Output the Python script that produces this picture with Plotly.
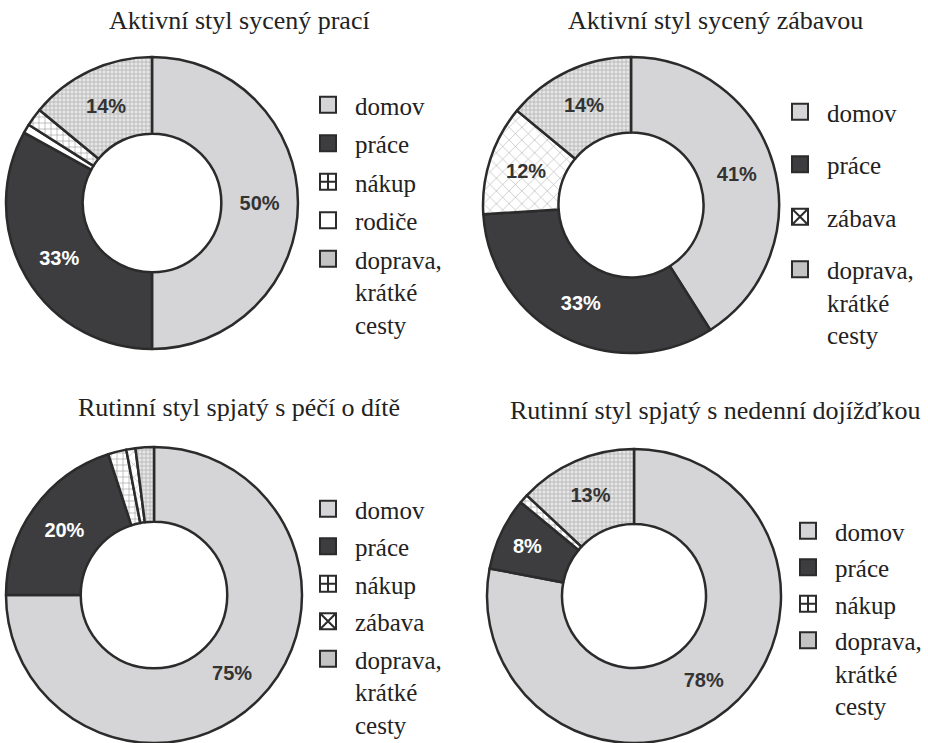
import plotly.graph_objects as go

# ---- data ---------------------------------------------------------------
titles = [
    "Aktivní styl sycený prací",
    "Aktivní styl sycený zábavou",
    "Rutinní styl spjatý s péčí o dítě",
    "Rutinní styl spjatý s nedenní dojížďkou",
]

# slice order (clockwise from 12 o'clock)
slices_1 = ["domov", "práce", "rodiče", "nákup", "doprava"]
values_1 = [50, 33, 1, 2, 14]
legend_1 = ["domov", "práce", "nákup", "rodiče", "doprava"]

slices_2 = ["domov", "práce", "zábava", "doprava"]
values_2 = [41, 33, 12, 14]
legend_2 = ["domov", "práce", "zábava", "doprava"]

slices_3 = ["domov", "práce", "nákup", "zábava", "doprava"]
values_3 = [75, 20, 2, 1, 2]
legend_3 = ["domov", "práce", "nákup", "zábava", "doprava"]

slices_4 = ["domov", "práce", "nákup", "doprava"]
values_4 = [78, 8, 1, 13]
legend_4 = ["domov", "práce", "nákup", "doprava"]

legend_names = {
    "domov": "domov",
    "práce": "práce",
    "nákup": "nákup",
    "rodiče": "rodiče",
    "zábava": "zábava",
    "doprava": "doprava,<br>krátké<br>cesty",
}

# ---- styling ------------------------------------------------------------
SERIF = "Liberation Serif"
EDGE = "#2b2b2b"
STYLE = {
    "domov":   dict(bg="#d5d5d7", shape="",  fg="#d5d5d7", size=8, sol=0.2, text="#333333",
                    sym="square", icon="#d5d5d7"),
    "práce":   dict(bg="#3d3d3f", shape="",  fg="#3d3d3f", size=8, sol=0.2, text="#ffffff",
                    sym="square", icon="#3d3d3f"),
    "nákup":   dict(bg="#ffffff", shape="+", fg="#3a3a3a", size=6, sol=0.2, text="#333333",
                    sym="square-cross", icon="#ffffff"),
    "rodiče":  dict(bg="#ffffff", shape="",  fg="#ffffff", size=8, sol=0.2, text="#333333",
                    sym="square", icon="#ffffff"),
    "zábava":  dict(bg="#ffffff", shape="x", fg="#555555", size=9, sol=0.12, text="#333333",
                    sym="square-x", icon="#ffffff"),
    "doprava": dict(bg="#e6e6e6", shape="+", fg="#6a6a6a", size=4, sol=0.3, text="#333333",
                    sym="square", icon="#c4c4c4"),
}

W, H = 928, 743


def px_domain(cx, cy, r):
    return dict(x=[(cx - r) / W, (cx + r) / W],
                y=[1 - (cy + r) / H, 1 - (cy - r) / H])


charts = [
    dict(slices=slices_1, values=values_1, legend=legend_1, center=(152, 203), r=146, hole=0.475,
         lg="legend", lgx=301, lgy=82, gap=3, title_xy=(239, 20)),
    dict(slices=slices_2, values=values_2, legend=legend_2, center=(631, 205), r=148, hole=0.49,
         lg="legend2", lgx=773, lgy=89, gap=17, title_xy=(715, 20)),
    dict(slices=slices_3, values=values_3, legend=legend_3, center=(154, 595), r=148, hole=0.495,
         lg="legend3", lgx=301, lgy=486, gap=2, title_xy=(239, 407)),
    dict(slices=slices_4, values=values_4, legend=legend_4, center=(634, 596), r=147, hole=0.49,
         lg="legend4", lgx=781, lgy=508, gap=1, title_xy=(715, 411)),
]

fig = go.Figure()

for ch in charts:
    sl = ch["slices"]
    vals = ch["values"]
    fig.add_trace(go.Pie(
        labels=sl,
        values=vals,
        sort=False,
        direction="clockwise",
        rotation=0,
        hole=ch["hole"],
        domain=px_domain(*ch["center"], ch["r"]),
        text=[f"{v}%" if v >= 5 else "" for v in vals],
        textinfo="text",
        textposition="inside",
        insidetextorientation="horizontal",
        textfont=dict(family="Liberation Sans, Arial, sans-serif", size=20, weight="bold",
                      color=[STYLE[s]["text"] for s in sl]),
        marker=dict(
            colors=[STYLE[s]["bg"] for s in sl],
            line=dict(color=EDGE, width=2.5),
            pattern=dict(
                shape=[STYLE[s]["shape"] for s in sl],
                fgcolor=[STYLE[s]["fg"] for s in sl],
                bgcolor=[STYLE[s]["bg"] for s in sl],
                size=[STYLE[s]["size"] for s in sl],
                solidity=[STYLE[s]["sol"] for s in sl],
                fillmode="overlay",
            ),
        ),
        showlegend=False,
        hoverinfo="label+percent",
    ))

    # legend entries, one group per category so the gap spaces the rows
    for name in ch["legend"]:
        st = STYLE[name]
        fig.add_trace(go.Scatter(
            x=[None], y=[None],
            mode="markers",
            name=legend_names[name],
            legend=ch["lg"],
            legendgroup=f'{ch["lg"]}-{name}',
            showlegend=True,
            marker=dict(symbol=st["sym"], size=16, color=st["icon"],
                        line=dict(color=EDGE, width=2)),
            hoverinfo="skip",
        ))

legend_font = dict(family=SERIF, size=25, color="#222222")
for ch in charts:
    fig.update_layout({
        ch["lg"]: dict(
            x=ch["lgx"] / W, y=1 - ch["lgy"] / H,
            xanchor="left", yanchor="top",
            font=legend_font,
            traceorder="grouped",
            tracegroupgap=ch["gap"],
            valign="top",
            itemwidth=44,
            itemsizing="trace",
            bgcolor="rgba(0,0,0,0)",
            borderwidth=0,
        )
    })

for ch, t in zip(charts, titles):
    tx, ty = ch["title_xy"]
    fig.add_annotation(
        x=tx / W, y=1 - ty / H, xref="paper", yref="paper",
        text=t, showarrow=False, xanchor="center", yanchor="middle",
        font=dict(family=SERIF, size=26, color="#222222"),
    )

fig.update_layout(
    width=W, height=H,
    margin=dict(l=0, r=0, t=0, b=0, autoexpand=False),
    paper_bgcolor="white",
    plot_bgcolor="white",
    xaxis=dict(visible=False, domain=[0, 0.001]),
    yaxis=dict(visible=False, domain=[0, 0.001]),
)

fig.write_html("out.html")
